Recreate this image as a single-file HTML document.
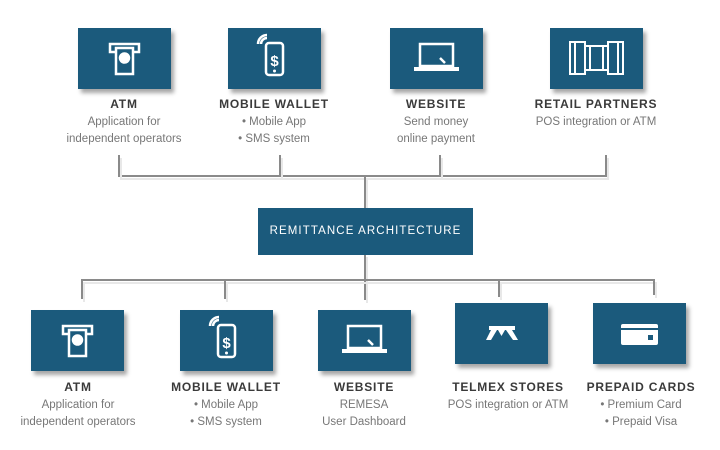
<!DOCTYPE html>
<html><head><style>
body{margin:0;width:720px;height:450px;background:#fff;position:relative;overflow:hidden;font-family:"Liberation Sans",sans-serif}
.b{position:absolute;width:93px;height:61px;background:#1b5a7c;box-shadow:3px 4px 4px rgba(0,0,0,.35)}
.b svg{position:absolute;left:0;top:0}
.t{position:absolute;width:180px;text-align:center;color:#3a3a3a;font-size:12px;font-weight:bold;letter-spacing:0.8px}
.s{position:absolute;width:180px;text-align:center;color:#777;font-size:11.5px;line-height:17px}
.h,.v{position:absolute;background:#8a8a8a;box-shadow:2px 3px 0 #e8e8e8}
.h{height:2px}.v{width:2px}
</style></head><body>
<div class="h" style="left:118px;top:175px;width:489px"></div>
<div class="v" style="left:118px;top:155px;height:21px"></div>
<div class="v" style="left:279px;top:155px;height:21px"></div>
<div class="v" style="left:439px;top:155px;height:21px"></div>
<div class="v" style="left:605px;top:155px;height:21px"></div>
<div class="v" style="left:364px;top:175px;height:33px"></div>
<div class="v" style="left:364px;top:254px;height:46px"></div>
<div class="h" style="left:81px;top:279px;width:574px"></div>
<div class="v" style="left:81px;top:279px;height:20px"></div>
<div class="v" style="left:224px;top:279px;height:20px"></div>
<div class="v" style="left:498px;top:279px;height:18px"></div>
<div class="v" style="left:653px;top:279px;height:16px"></div>

<div style="position:absolute;left:258px;top:208px;width:215px;height:47px;background:#1b5a7c;color:#fff;font-size:11.5px;letter-spacing:1.1px;text-align:center;line-height:47px">REMITTANCE ARCHITECTURE</div>

<div class="b" style="left:78px;top:28px"><svg width="93" height="61"><g fill="none" stroke="#fff" stroke-width="2.5"><path d="M37 24 h-5 v-8 h29 v8 h-5"/><rect x="38" y="20" width="17" height="26"/><circle cx="46.5" cy="30" r="4.5" fill="#fff"/></g></svg></div>
<div class="b" style="left:228px;top:28px"><svg width="93" height="61"><g fill="none" stroke="#fff" stroke-width="2.5"><rect x="38" y="15" width="17" height="32" rx="3"/><path d="M33 16 a6 6 0 0 1 6 -6 M30 16 a9 9 0 0 1 9 -9"/></g><text x="46.5" y="38" fill="#fff" font-size="15" font-weight="bold" text-anchor="middle" font-family="Liberation Sans">$</text><circle cx="46.5" cy="43" r="1.5" fill="#fff"/></svg></div>
<div class="b" style="left:390px;top:28px"><svg width="93" height="61"><g fill="none" stroke="#fff" stroke-width="2.5"><rect x="30" y="16" width="33" height="22"/><path d="M24 41 h45" stroke-width="4"/><path d="M50 30 l5 5"/></g></svg></div>
<div class="b" style="left:550px;top:28px"><svg width="93" height="61"><g fill="none" stroke="#fff" stroke-width="2"><path d="M20 14 h15 v32 h-15z M35 18 h23 v24 h-23 M58 14 h15 v32 h-15z M40 18 v24 M53 18 v24 M25 14 v32 M68 14 v32"/></g></svg></div>

<div class="t" style="left:34px;top:97px">ATM</div>
<div class="s" style="left:34px;top:114px">Application for<br>independent operators</div>
<div class="t" style="left:184px;top:97px">MOBILE WALLET</div>
<div class="s" style="left:184px;top:114px">• Mobile App<br>• SMS system</div>
<div class="t" style="left:346px;top:97px">WEBSITE</div>
<div class="s" style="left:346px;top:114px">Send money<br>online payment</div>
<div class="t" style="left:506px;top:97px">RETAIL PARTNERS</div>
<div class="s" style="left:506px;top:114px">POS integration or ATM</div>

<div class="b" style="left:31px;top:310px"><svg width="93" height="61"><g fill="none" stroke="#fff" stroke-width="2.5"><path d="M37 24 h-5 v-8 h29 v8 h-5"/><rect x="38" y="20" width="17" height="26"/><circle cx="46.5" cy="30" r="4.5" fill="#fff"/></g></svg></div>
<div class="b" style="left:180px;top:310px"><svg width="93" height="61"><g fill="none" stroke="#fff" stroke-width="2.5"><rect x="38" y="15" width="17" height="32" rx="3"/><path d="M33 16 a6 6 0 0 1 6 -6 M30 16 a9 9 0 0 1 9 -9"/></g><text x="46.5" y="38" fill="#fff" font-size="15" font-weight="bold" text-anchor="middle" font-family="Liberation Sans">$</text><circle cx="46.5" cy="43" r="1.5" fill="#fff"/></svg></div>
<div class="b" style="left:318px;top:310px"><svg width="93" height="61"><g fill="none" stroke="#fff" stroke-width="2.5"><rect x="30" y="16" width="33" height="22"/><path d="M24 41 h45" stroke-width="4"/><path d="M50 30 l5 5"/></g></svg></div>
<div class="b" style="left:455px;top:303px"><svg width="93" height="61"><g fill="#fff"><rect x="34" y="23" width="26" height="4"/><path d="M36 27 h6 l-6 10 h-5z M51 27 h6 l6 10 h-5z M43 27 h7 l-3.5 6z"/></g></svg></div>
<div class="b" style="left:593px;top:303px"><svg width="93" height="61"><rect x="28" y="21" width="37" height="21" rx="2" fill="#fff"/><rect x="28" y="25" width="37" height="2" fill="#1b5a7c"/><rect x="55" y="32" width="5" height="5" fill="#1b5a7c"/></svg></div>

<div class="t" style="left:-12px;top:380px">ATM</div>
<div class="s" style="left:-12px;top:397px">Application for<br>independent operators</div>
<div class="t" style="left:136px;top:380px">MOBILE WALLET</div>
<div class="s" style="left:136px;top:397px">• Mobile App<br>• SMS system</div>
<div class="t" style="left:274px;top:380px">WEBSITE</div>
<div class="s" style="left:274px;top:397px">REMESA<br>User Dashboard</div>
<div class="t" style="left:418px;top:380px">TELMEX STORES</div>
<div class="s" style="left:418px;top:397px">POS integration or ATM</div>
<div class="t" style="left:551px;top:380px">PREPAID CARDS</div>
<div class="s" style="left:551px;top:397px">• Premium Card<br>• Prepaid Visa</div>
</body></html>
